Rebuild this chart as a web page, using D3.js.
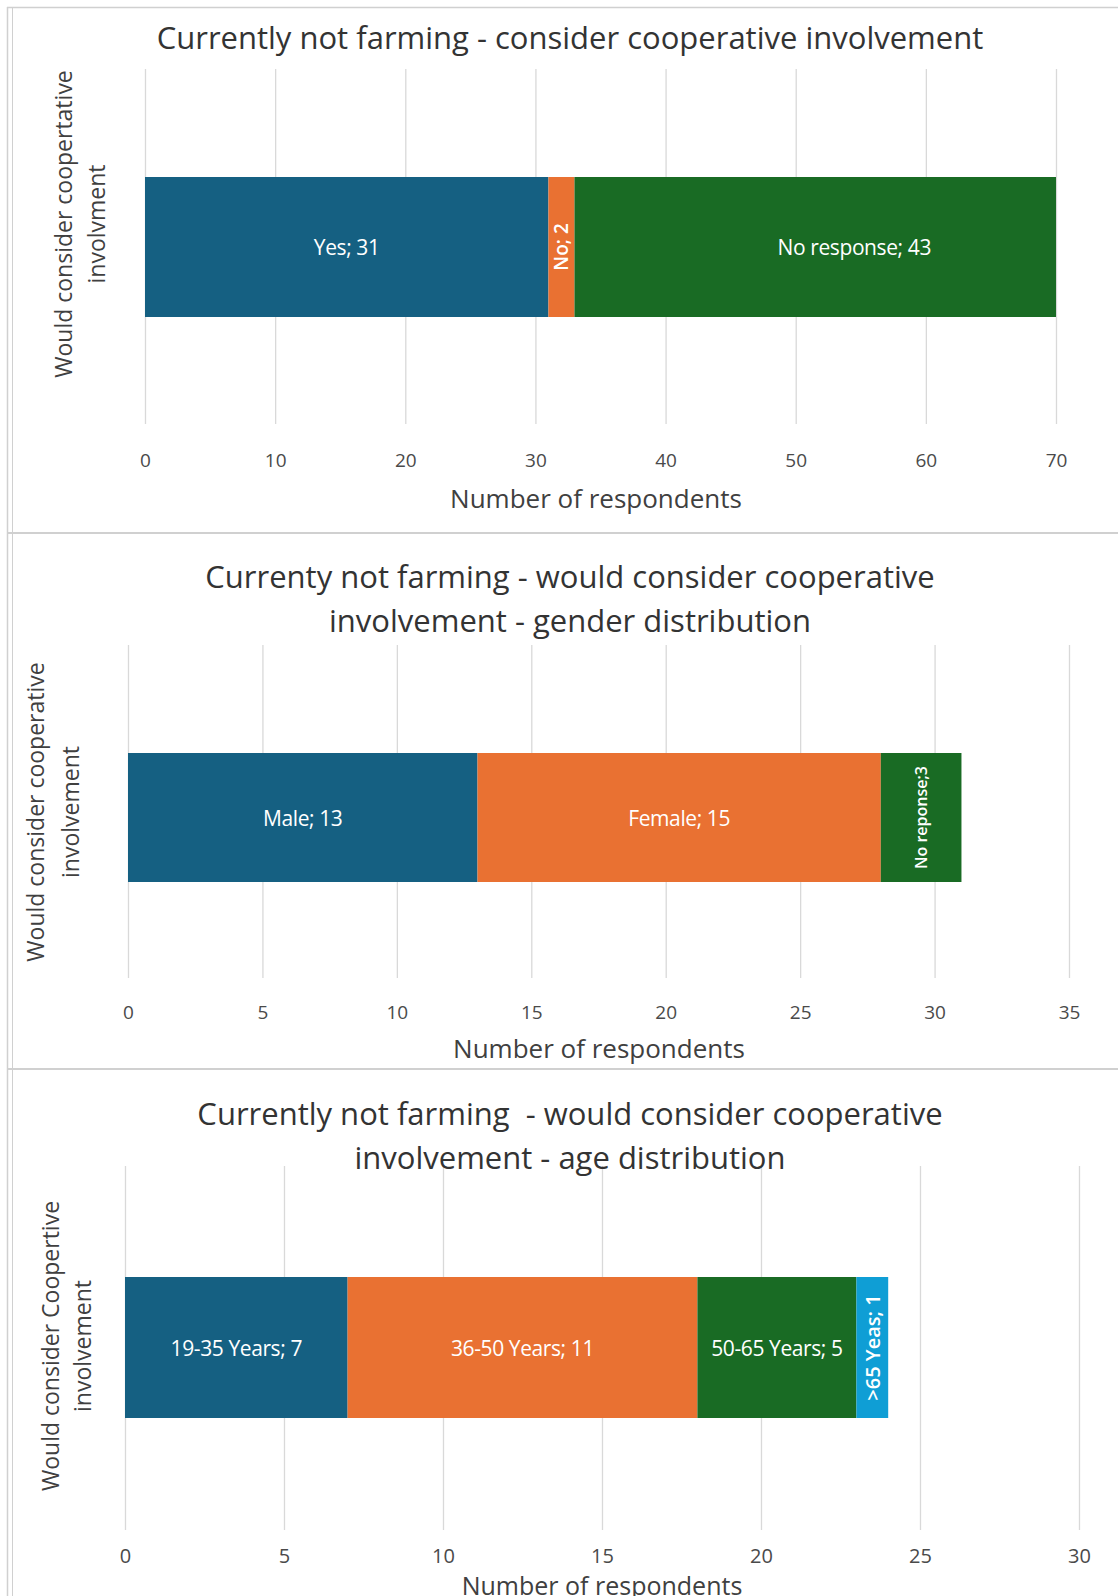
<!DOCTYPE html>
<html>
<head>
<meta charset="utf-8">
<script src="https://cdn.jsdelivr.net/npm/d3@7"></script>
<style>
  html, body { margin: 0; padding: 0; background: #ffffff; }
  svg { display: block; }
  text { font-family: "Open Sans", "Liberation Sans", sans-serif; }
</style>
</head>
<body>
<svg id="chart" width="1118" height="1596"></svg>
<script>
// ---- Data ----------------------------------------------------------------
// Chart 1: would consider cooperative involvement
const involvementCategories = ["Yes", "No", "No response"];
const involvementValues = [31, 2, 43];
const involvementTicks = [0, 10, 20, 30, 40, 50, 60, 70];

// Chart 2: gender distribution of those who would consider it
const genderCategories = ["Male", "Female", "No reponse"];
const genderValues = [13, 15, 3];
const genderTicks = [0, 5, 10, 15, 20, 25, 30, 35];

// Chart 3: age distribution of those who would consider it
const ageCategories = ["19-35 Years", "36-50 Years", "50-65 Years", ">65 Yeas"];
const ageValues = [7, 11, 5, 1];
const ageTicks = [0, 5, 10, 15, 20, 25, 30];

const titles = [
  ["Currently not farming - consider cooperative involvement"],
  ["Currenty not farming - would consider cooperative", "involvement - gender distribution"],
  ["Currently not farming  - would consider cooperative", "involvement - age distribution"]
];
const yTitles = [
  ["Would consider coopertative", "involvment"],
  ["Would consider cooperative", "involvement"],
  ["Would consider Coopertive", "involvement"]
];
const xTitle = "Number of respondents";

// ---- Styling -------------------------------------------------------------
const seriesColors = ["#156082", "#E97132", "#196B24", "#0F9ED5"];
const gridColor = "#d9d9d9";
const frameColor = "#d0d0d0";

// Layout of the three stacked charts
const panels = [
  {
    categories: involvementCategories, values: involvementValues, ticks: involvementTicks,
    sep: ["; ", "; ", "; "], rotated: [false, true, false],
    x0: 145, x1: 1056, gridTop: 69, gridBottom: 424, barTop: 177, barBottom: 317,
    titleY: [37], tickY: 460, tickSize: 19, xTitleX: 596, xTitleY: 498, xTitleSize: 26,
    yTitleX: [63, 96], yTitleY: 224, labelSize: 21, rotSize: 19
  },
  {
    categories: genderCategories, values: genderValues, ticks: genderTicks,
    sep: ["; ", "; ", ";"], rotated: [false, false, true],
    x0: 128, x1: 1069, gridTop: 645, gridBottom: 978, barTop: 753, barBottom: 882,
    titleY: [576, 620], tickY: 1012, tickSize: 19, xTitleX: 599, xTitleY: 1048, xTitleSize: 26,
    yTitleX: [35, 70], yTitleY: 812, labelSize: 21, rotSize: 16
  },
  {
    categories: ageCategories, values: ageValues, ticks: ageTicks,
    sep: ["; ", "; ", "; ", "; "], rotated: [false, false, false, true],
    x0: 125, x1: 1079, gridTop: 1166, gridBottom: 1530, barTop: 1277, barBottom: 1418,
    titleY: [1113, 1157], tickY: 1556, tickSize: 20, xTitleX: 602, xTitleY: 1585, xTitleSize: 25,
    yTitleX: [50, 82], yTitleY: 1346, labelSize: 21, rotSize: 20
  }
];

const titleSize = 31;
const yTitleSize = 23;

const svg = d3.select("#chart");

// Outer frame and separators between the charts
const frame = svg.append("g").attr("stroke", frameColor).attr("fill", "none");
frame.append("line").attr("x1", 7).attr("x2", 1118).attr("y1", 7.5).attr("y2", 7.5).attr("stroke-width", 1.5);
frame.append("line").attr("x1", 7.5).attr("x2", 7.5).attr("y1", 7).attr("y2", 1596).attr("stroke-width", 1.5);
frame.append("line").attr("x1", 12.5).attr("x2", 12.5).attr("y1", 7).attr("y2", 1596).attr("stroke-width", 1);
frame.append("line").attr("x1", 7).attr("x2", 1118).attr("y1", 533).attr("y2", 533).attr("stroke-width", 2);
frame.append("line").attr("x1", 7).attr("x2", 1118).attr("y1", 1069).attr("y2", 1069).attr("stroke-width", 2);

panels.forEach((p, i) => {
  const g = svg.append("g");
  const domainMax = p.ticks[p.ticks.length - 1];
  const x = d3.scaleLinear().domain([0, domainMax]).range([p.x0, p.x1]);
  const y = d3.scaleBand().domain(["row"]).range([p.barTop, p.barBottom]).padding(0);

  // Vertical gridlines from the axis generator
  const axis = d3.axisBottom(x).tickValues(p.ticks).tickSize(-(p.gridBottom - p.gridTop)).tickFormat(d3.format("d"));
  const ax = g.append("g").attr("transform", `translate(0,${p.gridBottom})`).call(axis);
  ax.select(".domain").remove();
  ax.selectAll(".tick line").attr("stroke", gridColor).attr("stroke-width", 1.3);
  ax.selectAll(".tick text")
    .attr("y", p.tickY - p.gridBottom)
    .attr("dy", "0.35em")
    .attr("fill", "#4a4a4a")
    .attr("font-size", p.tickSize)
    .attr("font-family", "'Open Sans', sans-serif");

  // Stacked segments
  let acc = 0;
  const segs = p.values.map((v, k) => {
    const s = { name: p.categories[k], value: v, start: acc, end: acc + v, k };
    acc += v;
    return s;
  });

  const clipId = `plot-clip-${i}`;
  g.append("clipPath").attr("id", clipId)
    .append("rect")
    .attr("x", x(0)).attr("y", p.gridTop)
    .attr("width", x(domainMax) - x(0)).attr("height", p.gridBottom - p.gridTop);

  g.append("g").attr("clip-path", `url(#${clipId})`)
    .selectAll("rect").data(segs).join("rect")
    .attr("x", d => x(d.start))
    .attr("width", d => x(d.end) - x(d.start))
    .attr("y", y("row"))
    .attr("height", y.bandwidth())
    .attr("fill", d => seriesColors[d.k]);

  // Data labels: category; value
  const cy = y("row") + y.bandwidth() / 2;
  g.append("g").selectAll("text").data(segs).join("text")
    .attr("transform", d => {
      const cx = x((d.start + d.end) / 2);
      return p.rotated[d.k] ? `translate(${cx},${cy}) rotate(-90)` : `translate(${cx},${cy})`;
    })
    .attr("text-anchor", "middle")
    .attr("dominant-baseline", "central")
    .attr("fill", "#ffffff")
    .attr("font-size", d => p.rotated[d.k] ? p.rotSize : p.labelSize)
    .attr("font-weight", d => p.rotated[d.k] ? 600 : 400)
    .attr("letter-spacing", d => p.rotated[d.k] ? 0 : -0.4)
    .text(d => `${d.name}${p.sep[d.k]}${d.value}`);

  // Chart title
  g.append("g").selectAll("text").data(titles[i]).join("text")
    .attr("x", 570)
    .attr("y", (d, j) => p.titleY[j])
    .attr("text-anchor", "middle")
    .attr("dominant-baseline", "central")
    .attr("fill", "#333333")
    .attr("font-size", titleSize)
    .style("white-space", "pre")
    .text(d => d);

  // Horizontal axis title
  g.append("text")
    .attr("x", p.xTitleX).attr("y", p.xTitleY)
    .attr("text-anchor", "middle")
    .attr("dominant-baseline", "central")
    .attr("fill", "#404040")
    .attr("font-size", p.xTitleSize)
    .text(xTitle);

  // Vertical axis title (two lines)
  g.append("g").selectAll("text").data(yTitles[i]).join("text")
    .attr("transform", (d, j) => `translate(${p.yTitleX[j]},${p.yTitleY}) rotate(-90)`)
    .attr("text-anchor", "middle")
    .attr("dominant-baseline", "central")
    .attr("fill", "#404040")
    .attr("font-size", yTitleSize)
    .text(d => d);
});
</script>
</body>
</html>
